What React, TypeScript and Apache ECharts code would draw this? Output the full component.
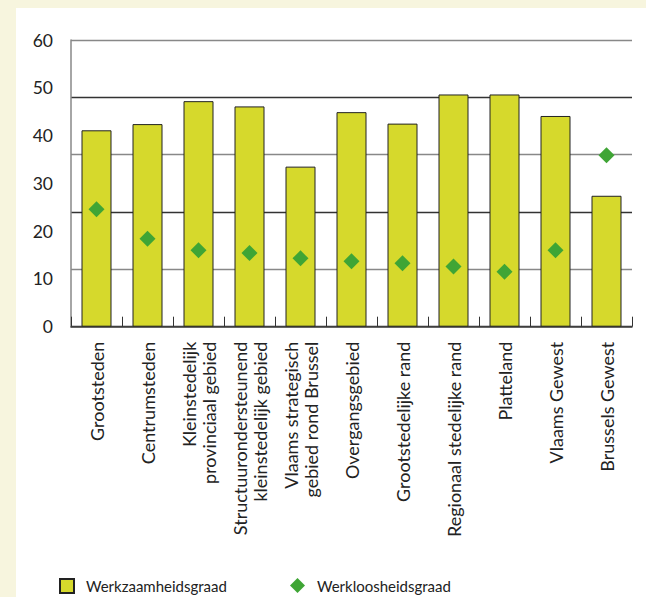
import React, { useEffect, useRef } from "react";
import * as echarts from "echarts";

const categories = [
  "Grootsteden",
  "Centrumsteden",
  "Kleinstedelijk\nprovinciaal gebied",
  "Structuurondersteunend\nkleinstedelijk gebied",
  "Vlaams strategisch\ngebied rond Brussel",
  "Overgangsgebied",
  "Grootstedelijke rand",
  "Regionaal stedelijke rand",
  "Platteland",
  "Vlaams Gewest",
  "Brussels Gewest",
];
const werkzaamheidsgraad = [41.1, 42.4, 47.2, 46.1, 33.5, 44.9, 42.5, 48.6, 48.6, 44.1, 27.4];
const werkloosheidsgraad = [24.6, 18.4, 16.0, 15.4, 14.3, 13.7, 13.3, 12.6, 11.5, 16.0, 35.9];
const yLabelTicks = { min: 0, max: 60, interval: 10 };
const gridTicks = { min: 0, max: 60, interval: 12 };

const FONT = "Lato, sans-serif";
const BAR_COLOR = "#D6D92C";
const DOT_COLOR = "#3FA535";

export default function App() {
  const ref = useRef<HTMLDivElement>(null);
  useEffect(() => {
    if (!ref.current) return;
    const chart = echarts.init(ref.current, undefined, { renderer: "svg" });
    chart.setOption({
      animation: false,
      backgroundColor: "#ffffff",
      textStyle: { fontFamily: FONT },
      grid: { left: 55, right: 14, top: 32, bottom: 270.3, containLabel: false },
      legend: [
        {
          left: 38,
          top: 565,
          itemWidth: 14,
          itemHeight: 14,
          data: [{ name: "Werkzaamheidsgraad", icon: "rect" }],
          textStyle: { fontSize: 15, color: "#222", fontFamily: FONT, padding: [0, 0, 0, 7] },
        },
        {
          left: 269,
          top: 565,
          itemWidth: 15,
          itemHeight: 15,
          data: [{ name: "Werkloosheidsgraad", icon: "diamond" }],
          textStyle: { fontSize: 15, color: "#222", fontFamily: FONT, padding: [0, 0, 0, 7] },
        },
      ],
      xAxis: {
        type: "category",
        data: categories,
        axisLine: { show: true, lineStyle: { color: "#444", width: 1.5 } },
        axisTick: { show: true, inside: true, length: 10, lineStyle: { color: "#333", width: 1 } },
        axisLabel: {
          interval: 0,
          rotate: 90,
          margin: 15,
          fontSize: 18,
          lineHeight: 20,
          color: "#222",
          fontFamily: FONT,
        },
        splitLine: { show: false },
      },
      yAxis: [
        {
          type: "value",
          ...yLabelTicks,
          position: "left",
          axisLine: { show: true, lineStyle: { color: "#888", width: 1.5 } },
          axisTick: { show: false },
          splitLine: { show: false },
          axisLabel: { margin: 18, fontSize: 17.5, color: "#222", fontFamily: FONT },
        },
        {
          type: "value",
          ...gridTicks,
          position: "left",
          axisLine: { show: false },
          axisTick: { show: false },
          axisLabel: { show: false },
          splitLine: { show: true, lineStyle: { color: ["#333", "#888"], width: 1.3 } },
        },
      ],
      series: [
        {
          name: "Werkzaamheidsgraad",
          type: "bar",
          data: werkzaamheidsgraad,
          barWidth: 30,
          yAxisIndex: 0,
          itemStyle: { color: BAR_COLOR, borderColor: "#222", borderWidth: 1 },
          z: 2,
        },
        {
          name: "Werkloosheidsgraad",
          type: "scatter",
          data: werkloosheidsgraad,
          yAxisIndex: 0,
          symbol: "diamond",
          symbolSize: [16, 16],
          itemStyle: { color: DOT_COLOR, opacity: 1 },
          z: 3,
        },
      ],
    });
    return () => chart.dispose();
  }, []);

  return (
    <div
      style={{
        position: "fixed",
        left: 0,
        top: 0,
        width: 646,
        height: 597,
        background: "#F7F5DE",
        overflow: "hidden",
      }}
    >
      <div
        ref={ref}
        style={{ position: "absolute", left: 16, top: 8, width: 630, height: 589 }}
      />
    </div>
  );
}
